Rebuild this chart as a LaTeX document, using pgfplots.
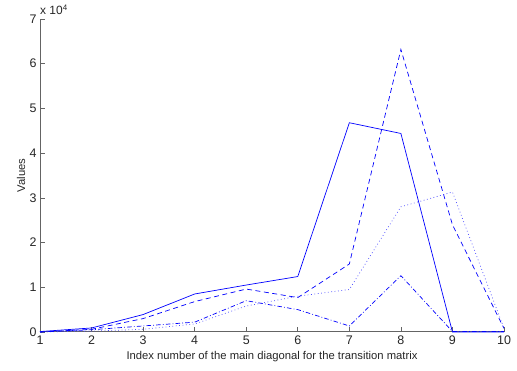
\documentclass[border=0pt]{standalone}
\usepackage{fontspec}
\setmainfont{Liberation Sans}
\usepackage{pgfplots}
\pgfplotsset{compat=1.18}
\definecolor{axgray}{RGB}{100,100,100}
\begin{document}
\fontsize{11.3}{13.5}\selectfont
\begin{tikzpicture}
\begin{axis}[
  name=ax,
  scale only axis,
  width=464bp, height=313bp,
  xmin=1, xmax=10, ymin=0, ymax=70000,
  axis lines=left,
  axis line style={-, draw=axgray, line width=1bp},
  tick align=inside,
  major tick length=4.5bp,
  tick style={draw=axgray, line width=0.7bp},
  xtick={1,2,...,10},
  ytick={0,10000,20000,30000,40000,50000,60000,70000},
  yticklabels={0,1,2,3,4,5,6,7},
  scaled y ticks=false,
  /pgf/number format/assume math mode=true,
  ticklabel style={font=\fontsize{12.5}{14}\selectfont, text=black!85},
  yticklabel style={xshift=0.5bp},
  xticklabel style={yshift=0.5bp},
  xlabel={Index number of the main diagonal for the transition matrix},
  xlabel style={at={(axis description cs:0.5,0)}, anchor=base, yshift=-27.5bp, font=\fontsize{11.3}{13.5}\selectfont, text=black!85},
  clip=false,
]
% solid
\addplot[blue, line width=0.7bp] coordinates {
(1,100) (2,900) (3,3900) (4,8500) (5,10500) (6,12400) (7,46800) (8,44400) (9,0) (10,0)};
% dashed
\addplot[blue, line width=0.7bp, dash pattern=on 5bp off 3.5bp] coordinates {
(1,0) (2,600) (3,3000) (4,6800) (5,9600) (6,7700) (7,15200) (8,63200) (9,24000) (10,800)};
% dotted
\addplot[blue!70, line width=0.7bp, dash pattern=on 0.8bp off 2.6bp] coordinates {
(1,0) (2,200) (3,600) (4,1800) (5,5800) (6,8000) (7,9500) (8,28000) (9,31300) (10,800)};
% dash-dot
\addplot[blue, line width=0.7bp, dash pattern=on 4.5bp off 2.2bp on 0.8bp off 2.2bp] coordinates {
(1,0) (2,500) (3,1350) (4,2200) (5,7000) (6,5000) (7,1350) (8,12600) (9,100) (10,100)};
\node[anchor=base west, inner sep=0pt, text=black!85, font=\fontsize{12}{14}\selectfont] at (rel axis cs:0,1) [yshift=4.5bp] {x 10\textsuperscript{4}};
\end{axis}
\node[rotate=90, anchor=base, inner sep=0pt, text=black!85, font=\fontsize{11.3}{13.5}\selectfont] at ([xshift=-15bp]ax.west) {Values};
\pgfresetboundingbox
\path[use as bounding box] ([xshift=-40bp,yshift=-39bp]ax.south west) rectangle ([xshift=13bp,yshift=19bp]ax.north east);
\end{tikzpicture}
\end{document}
